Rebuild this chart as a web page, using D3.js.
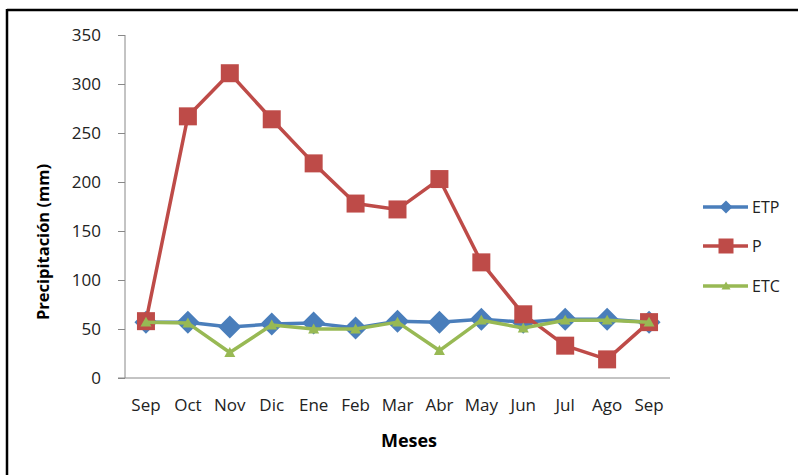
<!DOCTYPE html>
<html>
<head>
<meta charset="utf-8">
<script src="https://cdn.jsdelivr.net/npm/d3@7"></script>
<style>
  body { margin: 0; background: #fff; }
  svg { display: block; font-family: 'Open Sans', 'Noto Sans', sans-serif; }
</style>
</head>
<body>
<div class="chart"></div>
<script>
const months = ['Sep', 'Oct', 'Nov', 'Dic', 'Ene', 'Feb', 'Mar', 'Abr', 'May', 'Jun', 'Jul', 'Ago', 'Sep'];
const etp = [57, 57, 52, 55, 56, 51, 58, 57, 60, 57, 60, 60, 57];
const p = [58, 267, 311, 264, 219, 178, 172, 203, 118, 65, 33, 19, 57];
const etc = [57, 56, 26, 54, 50, 50, 57, 28, 59, 51, 59, 59, 57];
const yTicks = [0, 50, 100, 150, 200, 250, 300, 350];

const series = [
  { name: 'ETP', values: etp, color: '#4A7EBB', marker: 'diamond' },
  { name: 'P', values: p, color: '#BE4B48', marker: 'square' },
  { name: 'ETC', values: etc, color: '#98B954', marker: 'triangle' }
];

const width = 798, height = 475;
const margin = { top: 35, right: 128, bottom: 97, left: 125 };
const innerWidth = width - margin.left - margin.right;
const innerHeight = height - margin.top - margin.bottom;

const svg = d3.select('.chart')
  .append('svg')
  .attr('width', width)
  .attr('height', height);

// frame: only the top and left edges show in the picture
svg.append('line')
  .attr('x1', 7).attr('x2', width).attr('y1', 10).attr('y2', 10)
  .attr('stroke', '#000').attr('stroke-width', 2.5);
svg.append('line')
  .attr('x1', 7).attr('x2', 7).attr('y1', 9).attr('y2', height)
  .attr('stroke', '#000').attr('stroke-width', 2.5);

const g = svg.append('g')
  .attr('transform', `translate(${margin.left}, ${margin.top})`);

const x = d3.scaleBand()
  .domain(d3.range(months.length))
  .range([0, innerWidth]);

const y = d3.scaleLinear()
  .domain([0, 350])
  .range([innerHeight, 0]);

const cx = i => x(i) + x.bandwidth() / 2;

// y axis
const yAxis = g.append('g')
  .call(d3.axisLeft(y).tickValues(yTicks).tickSize(7).tickPadding(17))
  .attr('font-size', 17)
  .attr('font-family', null);
yAxis.select('.domain').attr('stroke', '#888').attr('d', `M0,0V${innerHeight}`);
yAxis.selectAll('.tick line').attr('stroke', '#888');
yAxis.selectAll('text').attr('fill', '#222');

// x axis
const xAxis = g.append('g')
  .attr('transform', `translate(0, ${innerHeight})`)
  .call(d3.axisBottom(x).tickFormat(i => months[i]).tickSize(0).tickPadding(21))
  .attr('font-size', 17)
  .attr('font-family', null);
xAxis.select('.domain').attr('stroke', '#888').attr('d', `M-7,0H${innerWidth}`);
xAxis.selectAll('text').attr('fill', '#222');

// axis titles
svg.append('text')
  .attr('x', 409).attr('y', 447)
  .attr('text-anchor', 'middle')
  .attr('font-size', 18).attr('font-weight', 'bold')
  .text('Meses');

svg.append('text')
  .attr('transform', 'translate(49, 242) rotate(-90)')
  .attr('text-anchor', 'middle')
  .attr('font-size', 16.5).attr('font-weight', 'bold')
  .text('Precipitación (mm)');

const markerPath = (type, s) => {
  if (type === 'diamond') return `M0,${-s}L${s},0L0,${s}L${-s},0Z`;
  if (type === 'square') return `M${-s},${-s}H${s}V${s}H${-s}Z`;
  return `M0,${-s}L${s},${s * 0.8}H${-s}Z`;
};
const markerSize = { diamond: 11.5, square: 9, triangle: 5.5 };
const legendSize = { diamond: 6.5, square: 7.5, triangle: 4.5 };

const line = d3.line()
  .x((d, i) => cx(i))
  .y(d => y(d));

series.forEach(s => {
  const sg = g.append('g');
  sg.append('path')
    .datum(s.values)
    .attr('fill', 'none')
    .attr('stroke', s.color)
    .attr('stroke-width', 3.5)
    .attr('stroke-linejoin', 'round')
    .attr('d', line);
  sg.selectAll('path.m')
    .data(s.values)
    .enter()
    .append('path')
    .attr('class', 'm')
    .attr('transform', (d, i) => `translate(${cx(i)}, ${y(d)})`)
    .attr('d', markerPath(s.marker, markerSize[s.marker]))
    .attr('fill', s.color);
});

// legend
const legend = svg.append('g')
  .selectAll('g')
  .data(series)
  .enter()
  .append('g')
  .attr('transform', (d, i) => `translate(703, ${[207, 246, 286][i]})`);

legend.append('line')
  .attr('x1', 0).attr('x2', 45)
  .attr('stroke', d => d.color)
  .attr('stroke-width', 3.5);

legend.append('path')
  .attr('transform', 'translate(23, 0)')
  .attr('d', d => markerPath(d.marker, legendSize[d.marker]))
  .attr('fill', d => d.color);

legend.append('text')
  .attr('x', 49).attr('dy', '0.35em')
  .attr('font-size', 16).attr('fill', '#222')
  .text(d => d.name);
</script>
</body>
</html>
